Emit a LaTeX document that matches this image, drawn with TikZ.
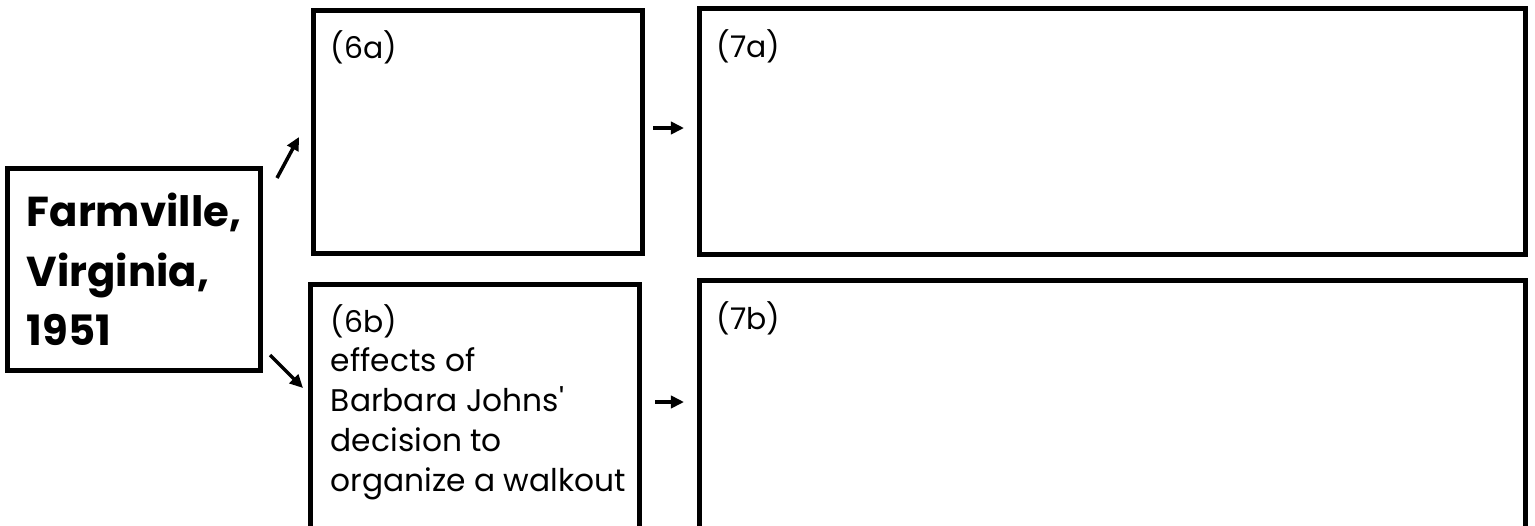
\documentclass[tikz,border=0pt]{standalone}
\usepackage{fontspec}
\newfontfamily\titlefont{Poppins}
\newfontfamily\labelfont{Poppins}
\newfontfamily\bodyfont{Poppins}
\usetikzlibrary{arrows.meta,calc}

\begin{document}
\begin{tikzpicture}[x=0.02cm, y=-0.02cm]
    \tikzstyle{box_style} = [draw=black, line width=2.8pt, rectangle, inner sep=0pt, outer sep=0pt, anchor=north west]
    \tikzstyle{label_style} = [inner sep=0pt, anchor=base west, font=\labelfont\fontsize{17}{20}\selectfont]
    \tikzstyle{body_style} = [inner sep=0pt, anchor=north west, align=left, font=\bodyfont\fontsize{17.8}{22.8}\selectfont]
    \tikzstyle{edge_style} = [draw=black, line width=2pt, -{Triangle[length=7.5pt,width=7pt]}]

    % page frame (y runs downwards, units in pixels)
    \useasboundingbox (0,0) rectangle (1535,525);
    \clip (0,0) rectangle (1535,525);

    \node[box_style, minimum width=5.06cm, minimum height=4.04cm, align=left,
          font=\titlefont\bfseries\fontsize{23.8}{34}\selectfont] (farm) at (7.5,168.5)
          {Farmville,\\Virginia,\\1951};
    \node[box_style, minimum width=6.58cm, minimum height=4.86cm] (b6a) at (313.5,10.5) {};
    \node[box_style, minimum width=6.58cm, minimum height=6.4cm] (b6b) at (310.5,284.5) {};
    \node[box_style, minimum width=16.52cm, minimum height=4.92cm] (b7a) at (699.5,8.5) {};
    \node[box_style, minimum width=16.52cm, minimum height=6.4cm] (b7b) at (699.5,280.5) {};

    \node[label_style] (l6a) at ($(b6a.north west)+(17,48)$) {(6a)};
    \node[label_style] (l6b) at ($(b6b.north west)+(20,48)$) {(6b)};
    \node[label_style] (l7a) at ($(b7a.north west)+(17,49)$) {(7a)};
    \node[label_style] (l7b) at ($(b7b.north west)+(17,49)$) {(7b)};
    \node[body_style] (t6b) at ($(b6b.north west)+(20,63)$)
          {effects of\\Barbara Johns'\\decision to\\organize a walkout};

    \coordinate (up_from) at (277,178);
    \coordinate (up_to) at (299,137);
    \coordinate (dn_from) at (270,355);
    \coordinate (dn_to) at (303,388);
    \coordinate (ra_from) at (653,128);
    \coordinate (ra_to) at (684,128);
    \coordinate (rb_from) at (655,402);
    \coordinate (rb_to) at (684,402);

    \draw[edge_style] (up_from) -- (up_to);
    \draw[edge_style] (dn_from) -- (dn_to);
    \draw[edge_style] (ra_from) -- (ra_to);
    \draw[edge_style] (rb_from) -- (rb_to);
\end{tikzpicture}
\end{document}
